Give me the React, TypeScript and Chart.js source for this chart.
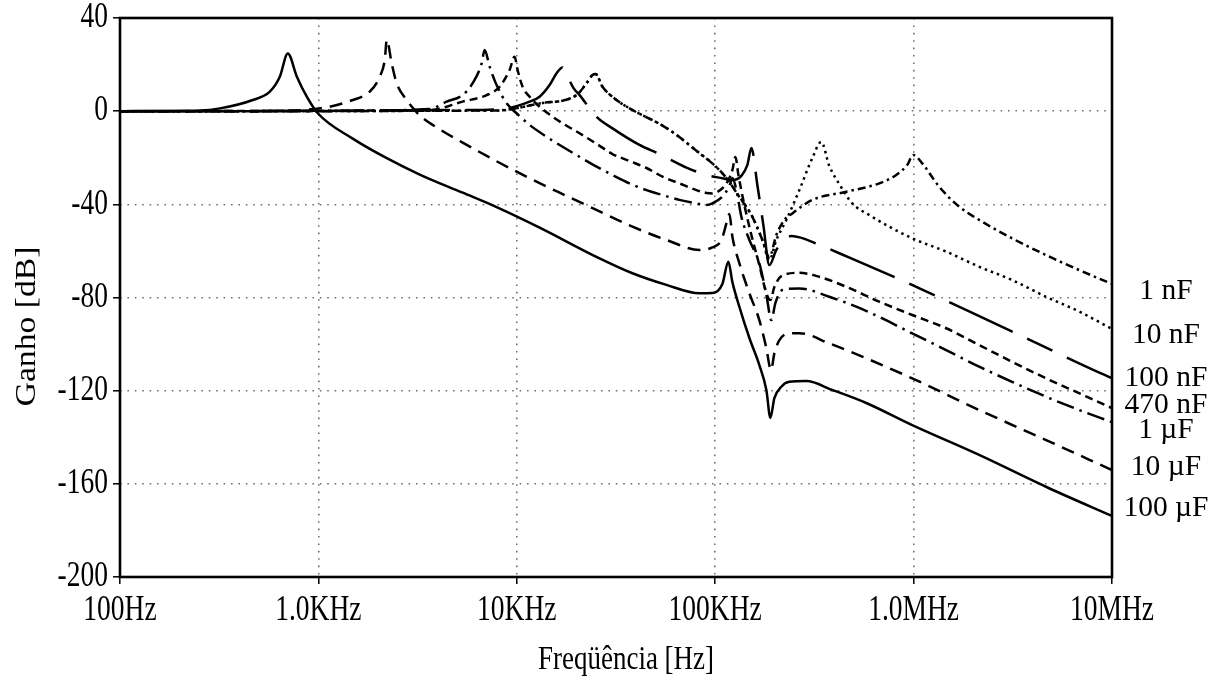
import { useEffect, useRef } from "react";
import { Chart, registerables } from "chart.js";

Chart.register(...registerables);

// Axis ticks
const freqTicks = [100, 1e3, 1e4, 1e5, 1e6, 1e7];
const freqTickLabels = ["100Hz", "1.0KHz", "10KHz", "100KHz", "1.0MHz", "10MHz"];
const gainTicks = [40, 0, -40, -80, -120, -160, -200];

// Capacitor labels on the right and the gain level each one sits at
const capLabels = ["1 nF", "10 nF", "100 nF", "470 nF", "1 µF", "10 µF", "100 µF"];
const capLabelGain = [-77.5, -96.1, -114.7, -126.2, -137.2, -152.7, -170.5];

// Frequency response per capacitor: frequency [Hz] and gain [dB]
const f100u = [100, 253, 319, 467, 569, 639, 701, 779, 874, 993, 1490, 2211, 3240, 5334, 7911, 13030, 26120, 38290, 56800, 83260, 96800, 108700, 116500, 122100, 132400, 148700, 166900, 181100, 189700, 198700, 215400, 236400, 287900, 389000, 577200, 984000, 2140000, 4818000, 10000000];
const g100u = [0, 0.3, 1.2, 4.8, 8.4, 14.8, 24.8, 14.8, 6.2, -0.9, -11.8, -20.2, -27.2, -35.0, -41.2, -50.0, -63.2, -69.6, -74.6, -78.2, -78.1, -74.2, -64.6, -73.4, -84.0, -97.4, -109.0, -119.7, -131.7, -123.2, -118.3, -116.2, -115.9, -119.7, -125.3, -134.8, -147.6, -161.9, -173.8];

const f10u = [100, 467, 1016, 1490, 1815, 2038, 2160, 2211, 2342, 2481, 2787, 3240, 4087, 5334, 7911, 11600, 17010, 26120, 38290, 56800, 83260, 96800, 107500, 115200, 117900, 122100, 132400, 148700, 166900, 180400, 191200, 198700, 210600, 236400, 265500, 375800, 551000, 984000, 2140000, 4653000, 10000000];
const g10u = [0, 0, 1.2, 4.8, 8.4, 14.8, 22.0, 30.6, 20.5, 12.0, 4.8, -1.8, -7.8, -13.5, -21.5, -28.8, -35.6, -43.0, -49.6, -55.3, -59.6, -58.5, -55.3, -46.7, -44.2, -53.9, -65.3, -78.2, -89.7, -101.1, -111.1, -104.0, -98.3, -95.4, -95.3, -99.7, -105.4, -114.7, -128.3, -141.2, -154.1];

const f1u = [100, 806, 3638, 4431, 5334, 5990, 6650, 6885, 7295, 7911, 8885, 9977, 11600, 14130, 17010, 20720, 25230, 30370, 36980, 45040, 54220, 66020, 80410, 90300, 96800, 108700, 117900, 122100, 127900, 135500, 148700, 166900, 181100, 191900, 201000, 218000, 265500, 375800, 551000, 984000, 1459000, 2140000, 3136000, 4653000, 6822000, 10000000];
const g1u = [0, 0, 0.9, 4.1, 6.9, 12.0, 20.5, 26.3, 19.1, 11.2, 3.4, -0.9, -5.9, -11.0, -15.3, -19.6, -23.8, -27.4, -31.0, -33.9, -36.0, -38.1, -39.6, -40.3, -39.6, -36.7, -32.1, -28.7, -33.9, -45.3, -55.3, -65.3, -78.9, -89.7, -82.4, -76.8, -76.1, -79.7, -85.0, -95.4, -102.6, -109.7, -116.2, -122.6, -128.3, -133.5];

const f470n = [100, 3638, 5334, 7047, 8191, 9198, 9748, 10093, 10695, 11600, 13025, 15150, 17010, 20720, 25230, 30370, 36980, 45040, 54220, 66020, 80410, 90300, 96800, 108700, 116500, 122100, 126400, 130900, 140300, 152200, 166900, 181100, 189700, 198700, 215400, 265500, 334700, 457800, 671100, 984000, 1459000, 2140000, 3136000, 4653000, 6822000, 10000000];
const g470n = [0, 0.5, 4.1, 6.9, 10.5, 17.7, 23.4, 17.7, 10.5, 6.2, 1.9, -2.4, -5.2, -9.5, -14.0, -18.4, -21.4, -24.4, -28.1, -31.0, -33.9, -35.1, -35.3, -33.1, -29.6, -25.3, -19.7, -27.4, -40.3, -53.2, -66.1, -78.1, -81.1, -75.5, -70.8, -69.4, -71.1, -75.4, -81.8, -87.5, -93.2, -100.4, -107.6, -114.7, -121.1, -127.5];

const f100n = [100, 5334, 8885, 11600, 13025, 14630, 15870, 17010, 18030, 19320, 20720, 25230, 30370, 41520, 52360, 71610, 90300, 108700, 122100, 135500, 145300, 152200, 163100, 174900, 187500, 203300, 223100, 242000, 346600, 422100, 1031000, 1757000, 3029000, 8804000, 10000000];
const g100n = [0, 0.5, 1.2, 4.1, 6.2, 11.2, 16.3, 18.8, 14.8, 9.9, 6.9, -2.4, -7.4, -14.5, -18.4, -24.2, -27.4, -28.8, -29.6, -27.8, -23.1, -15.8, -31.7, -48.9, -66.1, -59.6, -55.3, -53.6, -57.9, -61.0, -75.4, -84.6, -94.0, -112.6, -114.6];

const f10n = [100, 7911, 13180, 20010, 22460, 24080, 24940, 27040, 31810, 38290, 56800, 83260, 101400, 113900, 132400, 153900, 172900, 187500, 203300, 228300, 265500, 308600, 342500, 375800, 422100, 490800, 597600, 984000, 1459000, 2140000, 3136000, 4653000, 6822000, 10000000];
const g10n = [0, 0.3, 3.4, 6.9, 12.0, 15.5, 16.0, 10.5, 4.8, 0.5, -7.2, -18.0, -24.0, -28.7, -36.7, -45.3, -55.3, -63.9, -55.3, -46.7, -33.9, -20.2, -13.2, -23.5, -31.3, -39.6, -44.6, -54.6, -60.3, -66.8, -72.5, -79.7, -86.0, -93.5];

const f1n = [100, 7911, 13180, 20010, 22460, 24080, 24940, 27040, 31810, 38290, 56800, 83260, 101400, 113900, 132400, 153900, 172900, 187500, 203300, 223100, 244700, 308600, 457800, 671100, 817600, 928600, 995500, 1105000, 1345000, 1697000, 2140000, 3136000, 4653000, 6822000, 10000000];
const g1n = [0, 0.3, 3.4, 6.9, 12.0, 15.5, 16.0, 10.5, 4.8, 0.5, -7.2, -18.0, -24.0, -28.7, -36.9, -45.4, -55.3, -62.6, -53.2, -46.7, -43.9, -38.1, -34.6, -31.0, -27.4, -23.1, -18.8, -22.4, -32.4, -41.0, -46.7, -54.6, -61.8, -68.2, -74.2];

const FONT = '"Liberation Serif", "Times New Roman", serif';

function pts(f: number[], g: number[]) {
  return f.map((x, i) => ({ x, y: g[i] }));
}

// Draws text stretched along the given factor (vertical for horizontal text,
// along the reading direction for rotated text).
function stretchedText(
  ctx: CanvasRenderingContext2D,
  text: string,
  x: number,
  y: number,
  size: number,
  align: CanvasTextAlign,
  stretch: number,
  vertical = false
) {
  ctx.save();
  ctx.translate(x, y);
  if (vertical) {
    ctx.rotate(-Math.PI / 2);
    ctx.scale(stretch, 1);
  } else {
    ctx.scale(1, stretch);
  }
  ctx.font = `${size}px ${FONT}`;
  ctx.fillStyle = "#000";
  ctx.textAlign = align;
  ctx.textBaseline = "middle";
  ctx.fillText(text, 0, 0);
  ctx.restore();
}

const framePlugin = {
  id: "frame",
  afterDatasetsDraw(chart: any) {
    const { ctx, chartArea: a } = chart;
    ctx.save();
    ctx.strokeStyle = "#000";
    ctx.lineWidth = 2.6;
    ctx.strokeRect(a.left, a.top, a.right - a.left, a.bottom - a.top);
    ctx.restore();
  },
};

const textPlugin = {
  id: "texts",
  afterDraw(chart: any) {
    const { ctx, chartArea: a, scales } = chart;
    const xs = scales.x;
    const ys = scales.y;
    gainTicks.forEach((v) => {
      stretchedText(ctx, String(v), a.left - 12, ys.getPixelForValue(v), 27.5, "right", 1.27);
    });
    freqTicks.forEach((v, i) => {
      stretchedText(ctx, freqTickLabels[i], xs.getPixelForValue(v), a.bottom + 34, 27.5, "center", 1.27);
    });
    stretchedText(ctx, "Freqüência [Hz]", (a.left + a.right) / 2 + 10, a.bottom + 83, 27, "center", 1.27);
    stretchedText(ctx, "Ganho [dB]", 27, (a.top + a.bottom) / 2 + 29, 29.5, "center", 1.14, true);
    capLabels.forEach((t, i) => {
      stretchedText(ctx, t, a.right + 54, ys.getPixelForValue(capLabelGain[i]), 29.5, "center", 1.0);
    });
  },
};

export default function App() {
  const ref = useRef<HTMLCanvasElement | null>(null);

  useEffect(() => {
    if (!ref.current) return;
    const line = (f: number[], g: number[], dash: number[]) => ({
      data: pts(f, g),
      borderColor: "#000",
      borderWidth: 2.5,
      borderDash: dash,
      pointRadius: 0,
      fill: false,
      cubicInterpolationMode: "monotone" as const,
    });

    const chart = new Chart(ref.current, {
      type: "line",
      data: {
        datasets: [
          line(f100u, g100u, []),
          line(f10u, g10u, [13, 8]),
          line(f1u, g1u, [18, 6, 2.5, 6]),
          line(f470n, g470n, [8, 5]),
          line(f100n, g100n, [70, 16, 28, 16]),
          line(f10n, g10n, [2.5, 4]),
          line(f1n, g1n, [8, 4, 2.5, 4]),
        ],
      },
      options: {
        animation: false,
        responsive: false,
        devicePixelRatio: 1,
        layout: { padding: { left: 113, right: 109, top: 18, bottom: 102 } },
        plugins: { legend: { display: false }, tooltip: { enabled: false } },
        scales: {
          x: {
            type: "logarithmic",
            min: 100,
            max: 1e7,
            afterBuildTicks: (s: any) => {
              s.ticks = freqTicks.map((v) => ({ value: v }));
            },
            ticks: { display: false },
            grid: {
              color: "#707070",
              lineWidth: 1.6,
              drawTicks: true,
              tickLength: 7,
              tickColor: "#000",
              tickWidth: 1.5,
            },
            border: { display: false, dash: [1.6, 5.8] },
          },
          y: {
            type: "linear",
            min: -200,
            max: 40,
            afterBuildTicks: (s: any) => {
              s.ticks = gainTicks.map((v) => ({ value: v }));
            },
            ticks: { display: false },
            grid: {
              color: "#707070",
              lineWidth: 1.6,
              drawTicks: true,
              tickLength: 7,
              tickColor: "#000",
              tickWidth: 1.5,
            },
            border: { display: false, dash: [1.6, 5.8] },
          },
        },
      },
      plugins: [framePlugin, textPlugin],
    });
    return () => chart.destroy();
  }, []);

  return (
    <div style={{ position: "fixed", left: 0, top: 0, width: 1221, height: 686 }}>
      <canvas ref={ref} width={1221} height={686} style={{ display: "block", width: 1221, height: 686 }} />
    </div>
  );
}
